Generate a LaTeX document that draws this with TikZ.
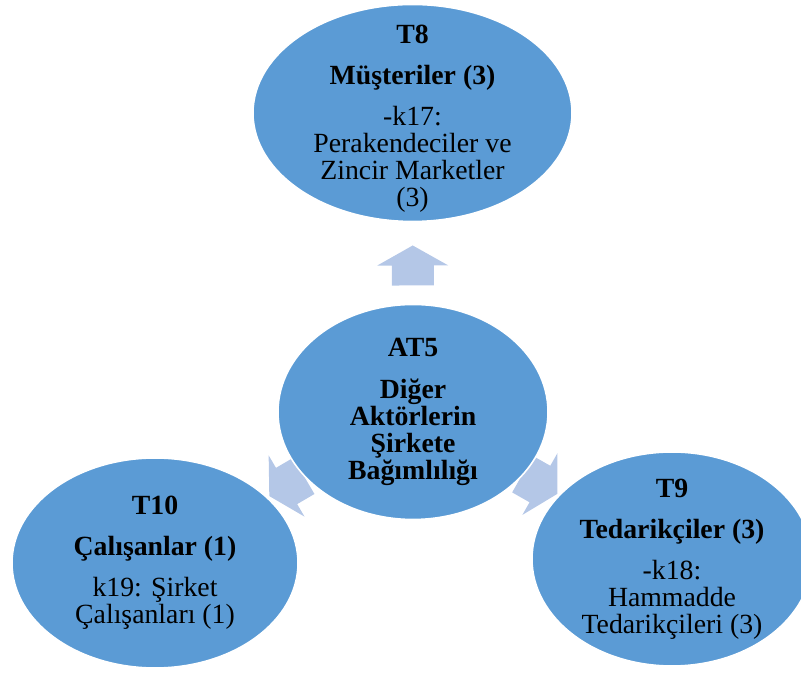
\documentclass[tikz,border=0pt]{standalone}
\usepackage{fontspec}
\setmainfont{Liberation Serif}
\usetikzlibrary{calc,backgrounds}

\definecolor{bubblefill}{RGB}{91,155,213}
\definecolor{arrowfill}{RGB}{180,199,231}

% wide block arrow half way between two bubbles, pointing at the second one
\newcommand{\blockarrow}[2]{%
  \coordinate (m) at ($(#1)!0.49!(#2)$);
  \coordinate (n) at ($(m)!-0.4cm!(#2)$);
  \fill[arrowfill] ($(m)!0.4cm!(#2)$) -- ($(m)!0.71cm!90:(#2)$) -- ($(m)!0.42cm!90:(#2)$)
    -- ($(n)!0.42cm!90:(#2)$) -- ($(n)!0.42cm!-90:(#2)$) -- ($(m)!0.42cm!-90:(#2)$)
    -- ($(m)!0.71cm!-90:(#2)$) -- cycle;
}

\begin{document}
\begin{tikzpicture}[
  font=\fontsize{15.8}{15.4}\selectfont,
  every node/.style={align=center, inner sep=0pt},
  bubble/.style={fill=bubblefill, draw=white, line width=0.9pt}
]
\useasboundingbox (0,0) rectangle (16.02,13.46);

\node (t8) at (8.25,11.08) {\textbf{T8}\\[8pt] \textbf{Müşteriler (3)}\\[8pt] -k17:\\ Perakendeciler ve\\ Zincir Marketler\\ (3)};
\node (at5) at (8.26,5.22) {\textbf{AT5}\\[8pt] \textbf{Diğer}\\ \textbf{Aktörlerin}\\ \textbf{Şirkete}\\ \textbf{Bağımlılığı}};
\node (t10) at (3.10,2.20) {\textbf{T10}\\[8pt] \textbf{Çalışanlar (1)}\\[8pt] k19: Şirket\\ Çalışanları (1)};
\node (t9) at (13.44,2.28) {\textbf{T9}\\[8pt] \textbf{Tedarikçiler (3)}\\[8pt] -k18:\\ Hammadde\\ Tedarikçileri (3)};

\begin{pgfonlayer}{background}
\coordinate (t8c) at ([yshift=0.12cm]t8.center);

\blockarrow{at5}{t8c}
\blockarrow{at5}{t10}
\blockarrow{at5}{t9}

\fill[bubble] (t8c) ellipse [x radius=3.19, y radius=2.17];
\fill[bubble] (at5) ellipse [x radius=2.70, y radius=2.15];
\fill[bubble] (t10) ellipse [x radius=2.86, y radius=2.10];
\fill[bubble] (t9) ellipse [x radius=2.80, y radius=2.14];
\end{pgfonlayer}
\end{tikzpicture}
\end{document}
